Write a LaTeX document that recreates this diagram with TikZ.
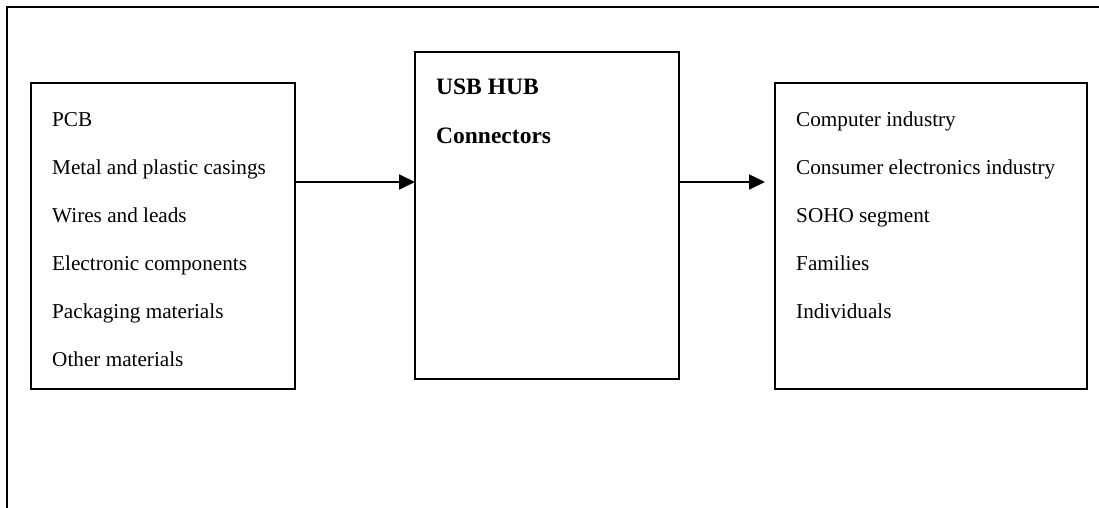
\documentclass[tikz,border=0pt]{standalone}
\usepackage{fontspec}
\setmainfont{Liberation Serif}
\usetikzlibrary{arrows.meta}
\begin{document}
\begin{tikzpicture}[x=1pt,y=-1pt,
  frameline/.style={line width=1.8pt},
  blockbox/.style={draw,line width=1.8pt,rectangle,inner sep=0pt,outer sep=0pt},
  item/.style={anchor=base west,inner sep=0pt,font=\fontsize{21.2}{25}\selectfont},
  title/.style={item,font=\fontsize{23.5}{28}\selectfont\bfseries},
  flow/.style={line width=1.8pt,-{Triangle[length=16pt,width=15pt]}}]
  \useasboundingbox (0,0) rectangle (1099,508);
  % outer frame (only top and left edges fall on the page)
  \draw[frameline] (7,508) -- (7,7) -- (1099,7);
  % the three blocks
  \node[blockbox,minimum width=264pt,minimum height=306pt,anchor=north west] (inputs) at (31,83) {};
  \node[blockbox,minimum width=264pt,minimum height=327pt,anchor=north west] (hub) at (415,52) {};
  \node[blockbox,minimum width=312pt,minimum height=306pt,anchor=north west] (markets) at (775,83) {};
  % input materials
  \foreach \t [count=\i] in {PCB,Metal and plastic casings,Wires and leads,Electronic components,Packaging materials,Other materials}
    \node[item] (in\i) at (52,{126+48*(\i-1)}) {\t};
  % product
  \node[title] (hub1) at (436,95) {USB HUB};
  \node[title] (hub2) at (436,143) {Connectors};
  % customers
  \foreach \t [count=\i] in {Computer industry,Consumer electronics industry,SOHO segment,Families,Individuals}
    \node[item] (out\i) at (796,{126+48*(\i-1)}) {\t};
  % flows
  \coordinate (tip) at (765,182);
  \draw[flow] (inputs.east |- tip) -- (hub.west |- tip);
  \draw[flow] (hub.east |- tip) -- (tip);
\end{tikzpicture}
\end{document}
